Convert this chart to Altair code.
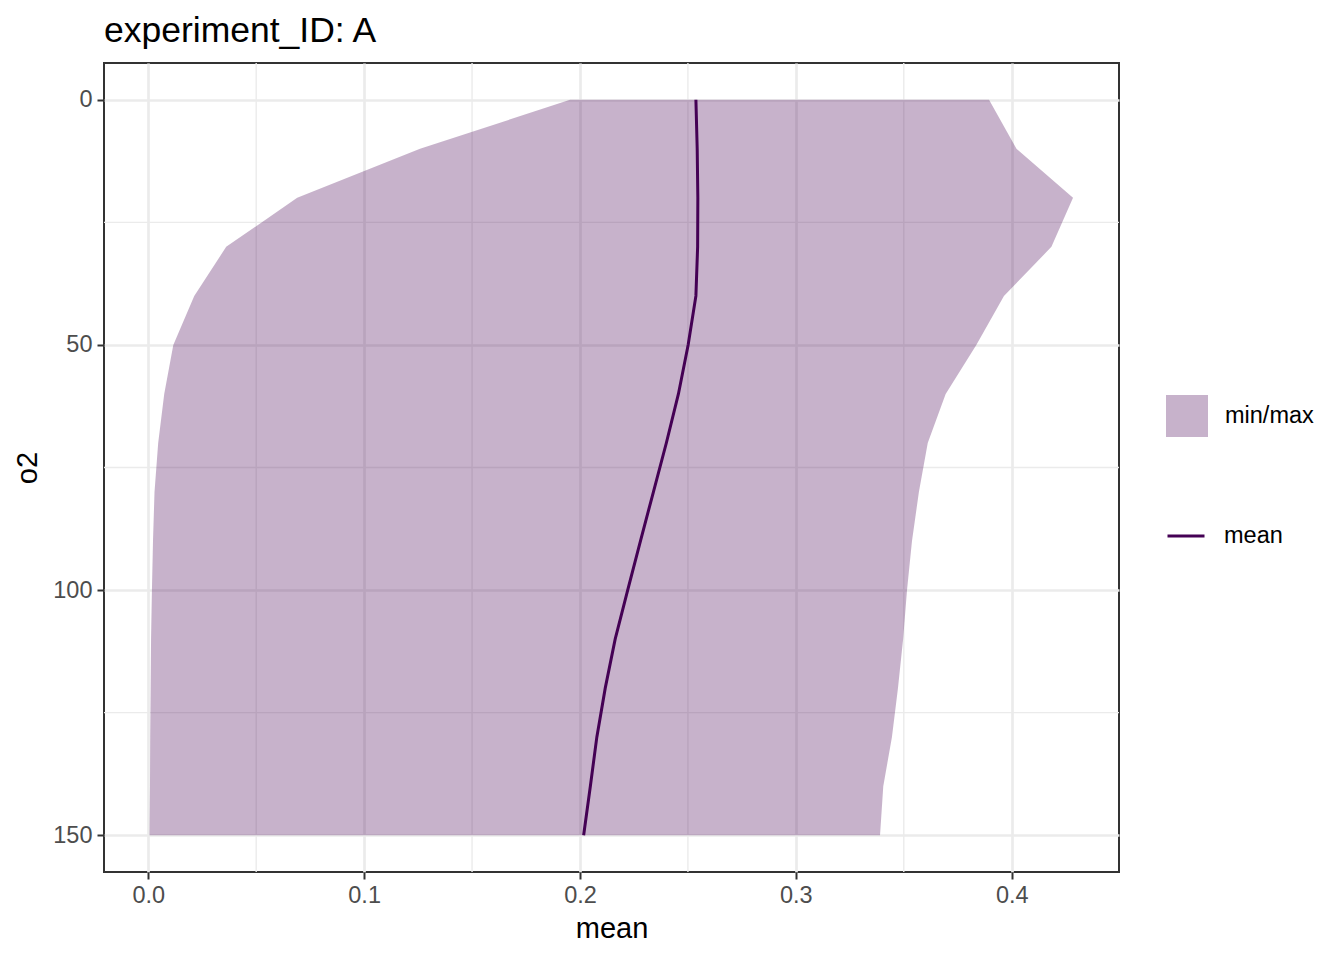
import altair as alt
import pandas as pd

depth = [0, 10, 20, 30, 40, 50, 60, 70, 80, 90, 100, 110, 120, 130, 140, 150]
o2_min = [0.1954, 0.1259, 0.0690, 0.0361, 0.0213, 0.0116, 0.0074, 0.0046,
          0.0029, 0.0022, 0.0017, 0.0013, 0.0011, 0.0009, 0.0008, 0.0006]
o2_max = [0.3895, 0.4022, 0.4284, 0.4184, 0.3964, 0.3836, 0.3694, 0.3611,
          0.3570, 0.3538, 0.3515, 0.3497, 0.3473, 0.3445, 0.3405, 0.3390]
o2_mean = [0.2537, 0.2543, 0.2546, 0.2545, 0.2537, 0.2501, 0.2456, 0.2400,
           0.2340, 0.2280, 0.2221, 0.2163, 0.2117, 0.2078, 0.2048, 0.2017]

x_major = [0.0, 0.1, 0.2, 0.3, 0.4]
x_minor = [0.05, 0.15, 0.25, 0.35]
y_major = [0, 50, 100, 150]
y_minor = [25, 75, 125]

FONT = "Liberation Sans"
PURPLE = "#440154"

df = pd.DataFrame({
    "depth": depth, "min": o2_min, "max": o2_max, "mean": o2_mean,
    "band": "min/max", "stat": "mean",
})

xs = alt.Scale(domain=[-0.0205, 0.4497], nice=False, zero=False)
ys = alt.Scale(domain=[-7.5, 157.5], nice=False, zero=False, reverse=True)

x_axis = alt.Axis(values=x_major, format=".1f", title="mean", grid=True,
                  gridColor="#EBEBEB", gridWidth=2.7, domain=False,
                  tickColor="#333333", tickWidth=2, tickSize=7,
                  labelFont=FONT, labelFontSize=23.5, labelColor="#4D4D4D",
                  labelPadding=4, titleFont=FONT, titleFontSize=29,
                  titleFontWeight="normal", titleColor="black", titlePadding=8)
y_axis = alt.Axis(values=y_major, format="d", title="o2", grid=True,
                  gridColor="#EBEBEB", gridWidth=2.7, domain=False,
                  tickColor="#333333", tickWidth=2, tickSize=7,
                  labelFont=FONT, labelFontSize=23.5, labelColor="#4D4D4D",
                  labelPadding=5, titleFont=FONT, titleFontSize=29,
                  titleFontWeight="normal", titleColor="black", titlePadding=10)

minor_v = alt.Chart(pd.DataFrame({"v": x_minor})).mark_rule(
    color="#EBEBEB", strokeWidth=1.4).encode(x=alt.X("v:Q", scale=xs, axis=x_axis))
minor_h = alt.Chart(pd.DataFrame({"v": y_minor})).mark_rule(
    color="#EBEBEB", strokeWidth=1.4).encode(y=alt.Y("v:Q", scale=ys, axis=y_axis))

area = alt.Chart(df).mark_area(orient="horizontal", opacity=0.3).encode(
    y=alt.Y("depth:Q", scale=ys, axis=y_axis),
    x=alt.X("min:Q", scale=xs, axis=x_axis),
    x2="max:Q",
    fill=alt.Fill("band:N", scale=alt.Scale(domain=["min/max"], range=[PURPLE]),
                  legend=alt.Legend(title=None, orient="none", legendX=1062,
                                    legendY=332, symbolType="square",
                                    symbolSize=1764, symbolOpacity=0.3,
                                    symbolStrokeWidth=0, labelOffset=17,
                                    labelFont=FONT, labelFontSize=23.5,
                                    labelColor="black", padding=0)),
)

line = alt.Chart(df).mark_line(strokeWidth=3, color=PURPLE).encode(
    y=alt.Y("depth:Q", scale=ys, axis=y_axis),
    x=alt.X("mean:Q", scale=xs, axis=x_axis),
    order=alt.Order("depth:Q"),
    stroke=alt.Stroke("stat:N", scale=alt.Scale(domain=["mean"], range=[PURPLE]),
                      legend=alt.Legend(title=None, orient="none", legendX=1062,
                                        legendY=453, symbolType="stroke",
                                        symbolSize=1369, symbolStrokeWidth=3,
                                        labelOffset=18, labelFont=FONT,
                                        labelFontSize=23.5, labelColor="black",
                                        padding=0)),
)

chart = alt.layer(minor_v, minor_h, area, line).properties(
    width=1015, height=809,
    background="white",
    title=alt.TitleParams("experiment_ID: A", anchor="start", fontSize=35.5,
                          font=FONT, fontWeight="normal", color="black",
                          offset=13, frame="group"),
    autosize=alt.AutoSizeParams(type="none"),
    padding={"left": 96, "top": 55, "right": 217, "bottom": 80},
).configure_view(stroke="#333333", strokeWidth=2)

chart.save("out.html", embed_options={"renderer": "svg", "actions": False})
